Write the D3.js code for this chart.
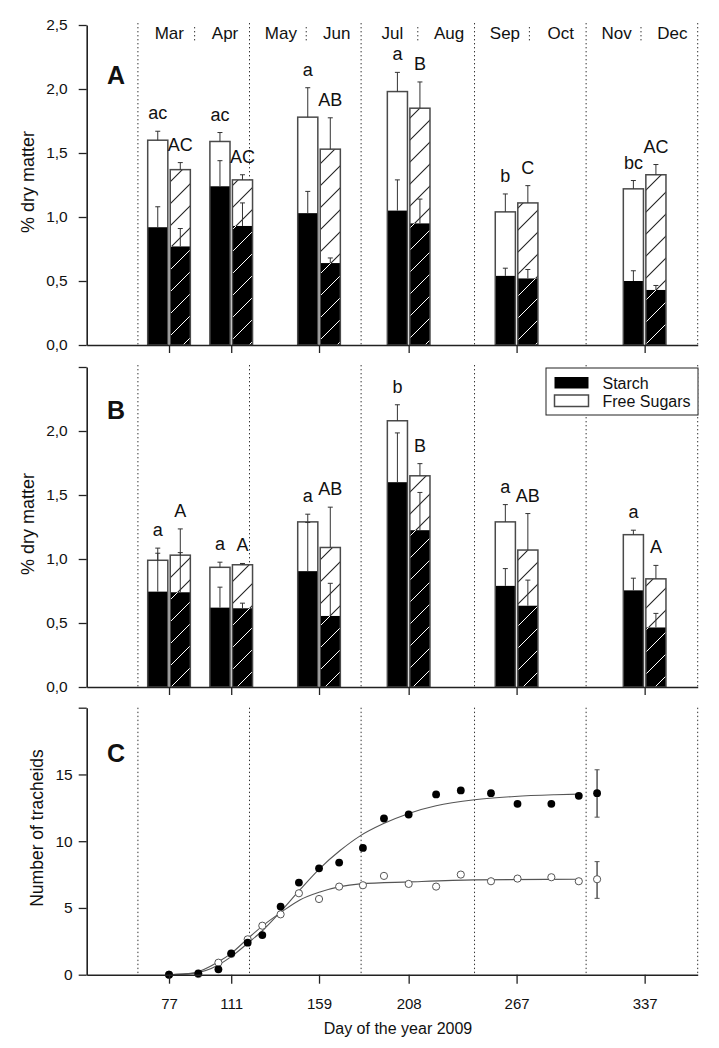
<!DOCTYPE html>
<html><head><meta charset="utf-8">
<script src="https://cdn.jsdelivr.net/npm/d3@7"></script>
<style>
body{margin:0;background:#fff}
svg{display:block}
text{font-family:"Liberation Sans",Arial,Helvetica,sans-serif;fill:#111}
</style>
</head><body>
<svg id="c" width="719" height="1048"></svg>
<script>
// ---------- data ----------
const sampleDays = [77, 111, 159, 208, 267, 337];
const monthNames = ["Mar","Apr","May","Jun","Jul","Aug","Sep","Oct","Nov","Dec"];
const monthStarts = [60, 91, 121, 152, 182, 213, 244, 274, 305, 335, 366];
const majorBounds = [60, 121, 182, 244, 305, 366];
const minorBounds = [91, 152, 213, 274, 335];
const yTicksBars = [0, 0.5, 1, 1.5, 2, 2.5];
const yTicksC = [0, 5, 10, 15, 20];

// Panel A
const aSolidTotal    = [1.60, 1.59, 1.78, 1.98, 1.04, 1.22];
const aSolidTotalErr = [0.07, 0.07, 0.23, 0.15, 0.14, 0.065];
const aSolidStarch   = [0.92, 1.24, 1.03, 1.05, 0.54, 0.50];
const aSolidStarchErr= [0.16, 0.20, 0.17, 0.24, 0.06, 0.08];
const aHatchTotal    = [1.37, 1.29, 1.53, 1.85, 1.11, 1.33];
const aHatchTotalErr = [0.055, 0.04, 0.245, 0.205, 0.135, 0.08];
const aHatchStarch   = [0.77, 0.93, 0.64, 0.95, 0.52, 0.43];
const aHatchStarchErr= [0.14, 0.18, 0.04, 0.19, 0.07, 0.035];
const aSolidLabels   = ["ac","ac","a","a","b","bc"];
const aHatchLabels   = ["AC","AC","AB","B","C","AC"];

// Panel B
const bSolidTotal    = [0.99, 0.935, 1.29, 2.08, 1.29, 1.19];
const bSolidTotalErr = [0.095, 0.04, 0.06, 0.125, 0.135, 0.035];
const bSolidStarch   = [0.745, 0.62, 0.905, 1.60, 0.79, 0.755];
const bSolidStarchErr= [0.30, 0.16, 0.38, 0.385, 0.135, 0.095];
const bHatchTotal    = [1.03, 0.955, 1.09, 1.65, 1.07, 0.845];
const bHatchTotalErr = [0.205, 0.01, 0.315, 0.095, 0.285, 0.105];
const bHatchStarch   = [0.74, 0.615, 0.555, 1.225, 0.635, 0.465];
const bHatchStarchErr= [0.31, 0.04, 0.255, 0.295, 0.20, 0.11];
const bSolidLabels   = ["a","a","a","b","a","a"];
const bHatchLabels   = ["A","A","AB","B","AB","A"];

// Panel C
const cDays     = [77, 93, 104, 111, 120, 128, 138, 148, 159, 170, 183, 194.5, 208, 223, 236.5, 253, 267.5, 286, 301];
const cFilled   = [0, 0.1, 0.4, 1.6, 2.4, 2.97, 5.1, 6.9, 7.97, 8.4, 9.5, 11.7, 12.0, 13.5, 13.8, 13.6, 12.8, 12.8, 13.4];
const cOpen     = [0, 0.05, 0.9, 1.55, 2.65, 3.67, 4.52, 6.1, 5.67, 6.6, 6.7, 7.4, 6.8, 6.6, 7.5, 7.0, 7.2, 7.3, 7.0];
const cMeanDay  = 311;
const cFilledMean = 13.6, cFilledLo = 11.8, cFilledHi = 15.35;
const cOpenMean   = 7.15, cOpenLo = 5.72, cOpenHi = 8.47;
const fitFilledDays = [77, 90, 104, 111, 120, 128.5, 138, 148.5, 159.5, 170.5, 181.5, 194, 208.5, 223, 244, 266, 288, 301];
const fitFilledVals = [0, 0.1, 0.73, 1.35, 2.35, 3.35, 4.72, 6.35, 7.97, 9.3, 10.4, 11.3, 12.1, 12.65, 13.1, 13.35, 13.48, 13.53];
const fitOpenDays = [77, 90, 104, 111, 120, 128.5, 138, 148.5, 159.5, 170.5, 181.5, 208.5, 244, 301];
const fitOpenVals = [0, 0.12, 0.97, 1.6, 2.7, 3.7, 4.65, 5.6, 6.2, 6.6, 6.8, 6.95, 7.1, 7.15];

// ---------- drawing ----------
const svg = d3.select('#c');
const x = d3.scaleLinear().domain([32, 366]).range([86.7, 697.7]);
const fmt = d => d.toFixed(1).replace('.', ',');
const axisColor = '#222';
const defs = svg.append('defs');
function hatch(id, bg, fg, sw) {
  const p = defs.append('pattern').attr('id', id).attr('patternUnits', 'userSpaceOnUse')
    .attr('width', 22).attr('height', 22);
  p.append('rect').attr('width', 22).attr('height', 22).attr('fill', bg);
  p.append('path').attr('d', 'M-3,25 L25,-3 M-6,6 L6,-6 M16,28 L28,16')
    .attr('stroke', fg).attr('stroke-width', sw);
}
hatch('hw', '#fff', '#222', 1.1);
hatch('hb', '#000', '#fff', 1);

function styleAxis(g, fs) {
  g.select('.domain').attr('stroke', axisColor).attr('stroke-width', 1.6);
  g.selectAll('.tick line').attr('stroke', axisColor).attr('stroke-width', 1.3);
  g.selectAll('.tick text').attr('font-size', fs).attr('fill', '#1a1a1a')
    .attr('font-family', '"Liberation Sans",Arial,sans-serif');
}

function dotted(g, days, y1, y2) {
  g.selectAll(null).data(days).join('line')
    .attr('x1', d => x(d)).attr('x2', d => x(d))
    .attr('y1', y1).attr('y2', y2)
    .attr('stroke', '#333').attr('stroke-width', 1).attr('stroke-dasharray', '1.4,2.6');
}

function errBar(g, cx, y0, y1, cap, color) {
  g.append('line').attr('x1', cx).attr('x2', cx).attr('y1', y0).attr('y2', y1)
    .attr('stroke', color).attr('stroke-width', 1);
  g.append('line').attr('x1', cx - cap).attr('x2', cx + cap).attr('y1', y1).attr('y2', y1)
    .attr('stroke', color).attr('stroke-width', 1);
}

function barPanel(p) {
  const y = d3.scaleLinear().domain([0, 2.5]).range([p.bottom, p.top]);
  const g = svg.append('g');
  dotted(g, majorBounds, p.top - 2, p.bottom);
  const bw = x(43) - x(32);
  const series = [
    {tot: p.sT, totE: p.sTE, st: p.sS, stE: p.sSE, lab: p.sL, off: -1.2 - bw, fT: '#fff', fS: '#000'},
    {tot: p.hT, totE: p.hTE, st: p.hS, stE: p.hSE, lab: p.hL, off: 1.2, fT: 'url(#hw)', fS: 'url(#hb)'}
  ];
  series.forEach(s => {
    const bars = g.append('g').selectAll('g').data(sampleDays).join('g');
    bars.append('rect').attr('x', d => x(d) + s.off).attr('width', bw)
      .attr('y', (d, i) => y(s.tot[i])).attr('height', (d, i) => y(0) - y(s.tot[i]))
      .attr('fill', s.fT);
    bars.append('rect').attr('x', d => x(d) + s.off).attr('width', bw)
      .attr('y', (d, i) => y(s.st[i])).attr('height', (d, i) => y(0) - y(s.st[i]))
      .attr('fill', s.fS);
    bars.append('rect').attr('x', d => x(d) + s.off).attr('width', bw)
      .attr('y', (d, i) => y(s.tot[i])).attr('height', (d, i) => y(0) - y(s.tot[i]))
      .attr('fill', 'none').attr('stroke', '#4a4a4a').attr('stroke-width', 1.5);
    sampleDays.forEach((d, i) => {
      const cx = x(d) + s.off + bw / 2;
      errBar(g, cx, y(s.tot[i]), y(s.tot[i] + s.totE[i]), 2.5, '#333');
      errBar(g, cx, y(s.st[i]), y(s.st[i] + s.stE[i]), 2.5, '#333');
      const topV = Math.max(s.tot[i] + s.totE[i], s.st[i] + s.stE[i]);
      g.append('text').attr('x', cx).attr('y', y(topV) - 12)
        .attr('text-anchor', 'middle').attr('font-size', 18).text(s.lab[i]);
    });
  });
  const ya = g.append('g').attr('transform', `translate(${x.range()[0]},0)`)
    .call(d3.axisLeft(y).tickValues(yTicksBars).tickSize(8).tickSizeOuter(0).tickPadding(11)
      .tickFormat(d => (p.hideTop && d === 2.5) ? '' : fmt(d)));
  styleAxis(ya, 15.5);
  const xa = g.append('g').attr('transform', `translate(0,${p.bottom})`)
    .call(d3.axisBottom(x).tickValues(sampleDays).tickSize(8).tickSizeOuter(0).tickFormat(''));
  styleAxis(xa, 15);
  g.append('text').attr('transform', `translate(34,${(p.top + p.bottom) / 2 - 3}) rotate(-90)`)
    .attr('text-anchor', 'middle').attr('font-size', 18).text('% dry matter');
  g.append('text').attr('x', 107).attr('y', p.letterY).attr('font-size', 25)
    .attr('font-weight', 'bold').text(p.letter);
  return g;
}

// Panel A
const gA = barPanel({top: 25, bottom: 345, letter: 'A', letterY: 84, hideTop: false,
  sT: aSolidTotal, sTE: aSolidTotalErr, sS: aSolidStarch, sSE: aSolidStarchErr, sL: aSolidLabels,
  hT: aHatchTotal, hTE: aHatchTotalErr, hS: aHatchStarch, hSE: aHatchStarchErr, hL: aHatchLabels});
dotted(gA, minorBounds, 27, 43);
gA.selectAll(null).data(monthNames).join('text')
  .attr('x', (d, i) => x((monthStarts[i] + monthStarts[i + 1]) / 2) + 3)
  .attr('y', 39).attr('text-anchor', 'middle').attr('font-size', 17).text(d => d);

// Panel B
const gB = barPanel({top: 367, bottom: 687, letter: 'B', letterY: 419, hideTop: true,
  sT: bSolidTotal, sTE: bSolidTotalErr, sS: bSolidStarch, sSE: bSolidStarchErr, sL: bSolidLabels,
  hT: bHatchTotal, hTE: bHatchTotalErr, hS: bHatchStarch, hSE: bHatchStarchErr, hL: bHatchLabels});
const leg = gB.append('g');
leg.append('rect').attr('x', 546).attr('y', 368).attr('width', 152).attr('height', 47)
  .attr('fill', '#fff').attr('stroke', '#222').attr('stroke-width', 1);
leg.append('rect').attr('x', 554.5).attr('y', 377).attr('width', 34).attr('height', 11.5).attr('fill', '#000');
leg.append('rect').attr('x', 554.5).attr('y', 395).attr('width', 34).attr('height', 11.5)
  .attr('fill', '#fff').attr('stroke', '#4a4a4a').attr('stroke-width', 1.5);
leg.append('text').attr('x', 602.5).attr('y', 389).attr('font-size', 16).text('Starch');
leg.append('text').attr('x', 602.5).attr('y', 406.5).attr('font-size', 16).text('Free Sugars');

// Panel C
const cTop = 707.7, cBottom = 974.7;
const yC = d3.scaleLinear().domain([0, 20]).range([cBottom, cTop]);
const gC = svg.append('g');
dotted(gC, majorBounds, cTop, cBottom);
const line = d3.line().x(d => x(d[0])).y(d => yC(d[1])).curve(d3.curveMonotoneX);
gC.append('path').datum(d3.zip(fitFilledDays, fitFilledVals)).attr('d', line)
  .attr('fill', 'none').attr('stroke', '#555').attr('stroke-width', 1.1);
gC.append('path').datum(d3.zip(fitOpenDays, fitOpenVals)).attr('d', line)
  .attr('fill', 'none').attr('stroke', '#555').attr('stroke-width', 1.1);
errBar(gC, x(cMeanDay), yC(cFilledLo), yC(cFilledHi), 2.5, '#555');
errBar(gC, x(cMeanDay), yC(cFilledHi), yC(cFilledLo), 2.5, '#555');
errBar(gC, x(cMeanDay), yC(cOpenLo), yC(cOpenHi), 2.5, '#555');
errBar(gC, x(cMeanDay), yC(cOpenHi), yC(cOpenLo), 2.5, '#555');
gC.selectAll('circle.o').data(d3.zip(cDays.concat([cMeanDay]), cOpen.concat([cOpenMean]))).join('circle')
  .attr('cx', d => x(d[0])).attr('cy', d => yC(d[1])).attr('r', 3.6)
  .attr('fill', '#fff').attr('stroke', '#555').attr('stroke-width', 1);
gC.selectAll('circle.f').data(d3.zip(cDays.concat([cMeanDay]), cFilled.concat([cFilledMean]))).join('circle')
  .attr('cx', d => x(d[0])).attr('cy', d => yC(d[1])).attr('r', 3.9).attr('fill', '#000');
const yaC = gC.append('g').attr('transform', `translate(${x.range()[0]},0)`)
  .call(d3.axisLeft(yC).tickValues(yTicksC).tickSize(8).tickSizeOuter(0).tickPadding(6)
    .tickFormat(d => d === 20 ? '' : d));
styleAxis(yaC, 15.5);
const xaC = gC.append('g').attr('transform', `translate(0,${cBottom})`)
  .call(d3.axisBottom(x).tickValues(sampleDays).tickSize(9).tickSizeOuter(0).tickPadding(15));
styleAxis(xaC, 15);
gC.append('text').attr('transform', `translate(43,828) rotate(-90)`)
  .attr('text-anchor', 'middle').attr('font-size', 17.5).text('Number of tracheids');
gC.append('text').attr('x', 107).attr('y', 762).attr('font-size', 25).attr('font-weight', 'bold').text('C');
gC.append('text').attr('x', 398).attr('y', 1034).attr('text-anchor', 'middle').attr('font-size', 16)
  .text('Day of the year 2009');
</script>
</body></html>
